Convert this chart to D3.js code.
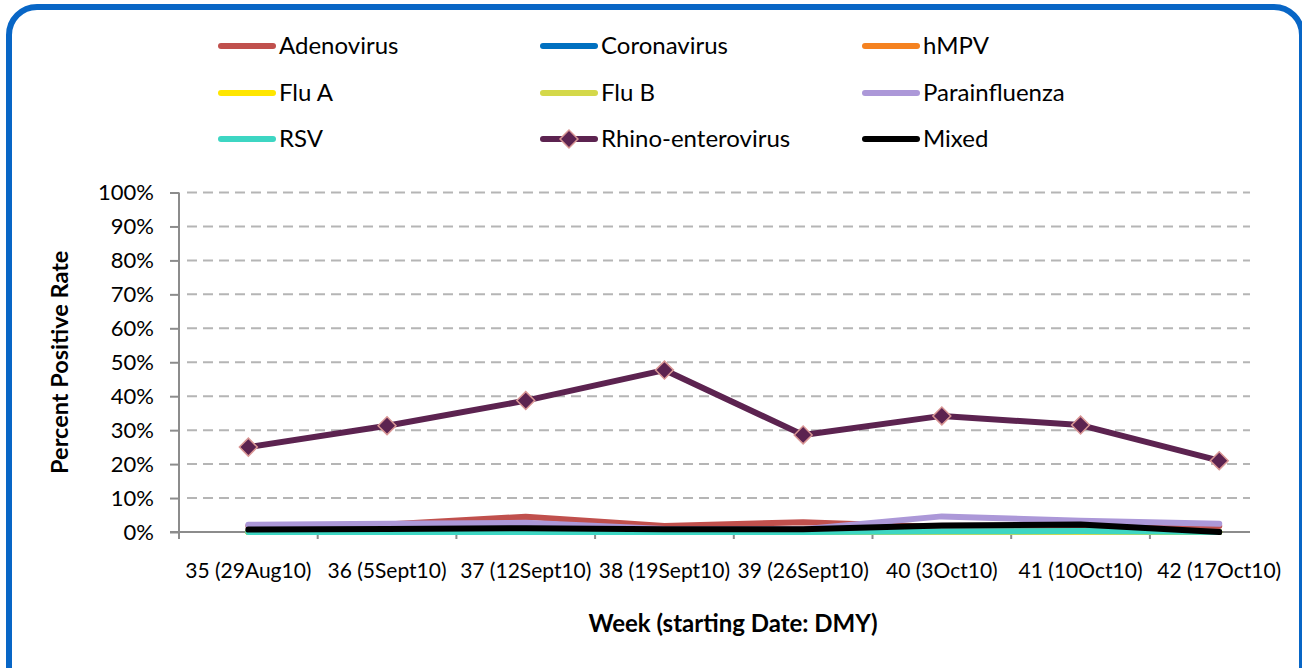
<!DOCTYPE html>
<head>
  <meta charset="utf-8">
  <script src="https://d3js.org/d3.v7.min.js"></script>
  <style>
  body { margin: 0; background: #fff; }
  #chart text {
    font-family: Lato, "Liberation Sans", sans-serif;
    fill: #000;
  }
  </style>
</head>

<body>
  <svg id="chart"></svg>
  <script>

    var weeks = ["35 (29Aug10)", "36 (5Sept10)", "37 (12Sept10)", "38 (19Sept10)",
                 "39 (26Sept10)", "40 (3Oct10)", "41 (10Oct10)", "42 (17Oct10)"];

    var seriesNames = ["Adenovirus", "Coronavirus", "hMPV", "Flu A", "Flu B",
                       "Parainfluenza", "RSV", "Rhino-enterovirus", "Mixed"];

    // percent positive per week
    var adenovirus     = [1.8, 2.2, 4.5, 1.8, 2.9, 1.5, 1.8, 1.8];
    var coronavirus    = [0, 0, 0, 0, 0, 0, 0, 0];
    var hmpv           = [0, 0, 0, 0, 0, 0, 0, 0];
    var fluA           = [0, 0, 0, 0, 0, 0, 0, 0];
    var fluB           = [0, 0, 0, 0, 0, 0, 0, 0];
    var parainfluenza  = [2.1, 2.4, 2.7, 0.9, 0.8, 4.6, 3.3, 2.4];
    var rsv            = [0, 0, 0, 0, 0, 0.2, 0.3, 0];
    var rhino          = [25.0, 31.3, 38.7, 47.7, 28.6, 34.2, 31.5, 21.0];
    var mixed          = [0.7, 0.9, 1.1, 0.8, 0.8, 1.9, 2.2, 0];

    var yTicks = [0, 10, 20, 30, 40, 50, 60, 70, 80, 90, 100];

    var colors = ["#c0504d", "#0070c0", "#f58220", "#ffe600", "#d4d84a",
                  "#ac98d8", "#3dd6c3", "#5c2350", "#000000"];

    var allValues = [adenovirus, coronavirus, hmpv, fluA, fluB,
                     parainfluenza, rsv, rhino, mixed];

    var series = seriesNames.map(function(name, i) {
      return { name: name, color: colors[i], values: allValues[i] };
    });

    var width = 1302,
        height = 668,
        plotLeft = 179,
        plotTop = 192.5,
        plotBottom = 532,
        step = 138.7,
        gridEnd = 1250;

    var svg = d3.select('#chart')
        .attr('width', width)
        .attr('height', height);

    // rounded frame (runs past the bottom edge)
    svg.append('rect')
        .attr('x', 9).attr('y', 7)
        .attr('width', 1293).attr('height', 700)
        .attr('rx', 28)
        .attr('fill', 'none')
        .attr('stroke', '#0866c6')
        .attr('stroke-width', 6);

    var x = d3.scaleBand()
        .domain(weeks)
        .range([plotLeft, plotLeft + step * weeks.length]);

    var y = d3.scaleLinear()
        .domain([0, 100])
        .range([plotBottom, plotTop]);

    // dashed gridlines
    svg.append('g').selectAll('line')
        .data(yTicks.slice(1))
      .enter().append('line')
        .attr('x1', plotLeft + 8).attr('x2', gridEnd)
        .attr('y1', function(d) { return y(d); })
        .attr('y2', function(d) { return y(d); })
        .attr('stroke', '#b5b5b5')
        .attr('stroke-width', 2)
        .attr('stroke-dasharray', '10,6');

    // y axis
    var yAxis = svg.append('g')
        .attr('transform', 'translate(' + plotLeft + ',0)')
        .call(d3.axisLeft(y).tickValues(yTicks).tickSize(9).tickPadding(16)
              .tickFormat(function(d) { return d + '%'; }));
    yAxis.select('.domain').remove();
    yAxis.selectAll('line').attr('stroke', '#8c8c8c').attr('stroke-width', 2);
    yAxis.selectAll('text').style('font-size', '22px');

    svg.append('line')
        .attr('x1', plotLeft).attr('x2', plotLeft)
        .attr('y1', plotTop).attr('y2', plotBottom + 7)
        .attr('stroke', '#8c8c8c').attr('stroke-width', 2);

    // x axis
    svg.append('line')
        .attr('x1', plotLeft - 9).attr('x2', gridEnd)
        .attr('y1', plotBottom).attr('y2', plotBottom)
        .attr('stroke', '#8c8c8c').attr('stroke-width', 2);

    svg.append('g').selectAll('line')
        .data(weeks.slice(0, -1))
      .enter().append('line')
        .attr('x1', function(d) { return x(d) + step; })
        .attr('x2', function(d) { return x(d) + step; })
        .attr('y1', plotBottom).attr('y2', plotBottom + 7)
        .attr('stroke', '#8c8c8c').attr('stroke-width', 2);

    var xAxis = svg.append('g')
        .attr('transform', 'translate(0,' + plotBottom + ')')
        .call(d3.axisBottom(x).tickSize(0).tickPadding(31));
    xAxis.select('.domain').remove();
    xAxis.selectAll('text').style('font-size', '21px');

    // axis titles
    svg.append('text')
        .attr('transform', 'translate(68,' + ((plotTop + plotBottom) / 2) + ') rotate(-90)')
        .attr('text-anchor', 'middle')
        .style('font-size', '23.5px')
        .style('font-weight', 'bold')
        .text('Percent Positive Rate');

    svg.append('text')
        .attr('x', 733).attr('y', 632)
        .attr('text-anchor', 'middle')
        .style('font-size', '24px')
        .style('font-weight', 'bold')
        .text('Week (starting Date: DMY)');

    // lines
    var line = d3.line()
        .x(function(d, i) { return x(weeks[i]) + x.bandwidth() / 2; })
        .y(function(d) { return y(d); });

    svg.append('g').selectAll('path')
        .data(series)
      .enter().append('path')
        .attr('d', function(d) { return line(d.values); })
        .attr('fill', 'none')
        .attr('stroke', function(d) { return d.color; })
        .attr('stroke-width', 6)
        .attr('stroke-linecap', 'round')
        .attr('stroke-linejoin', 'round');

    // diamond markers on rhino-enterovirus
    var diamond = d3.symbol().type(d3.symbolSquare).size(160);
    svg.append('g').selectAll('path')
        .data(rhino)
      .enter().append('path')
        .attr('d', diamond)
        .attr('transform', function(d, i) {
          return 'translate(' + (x(weeks[i]) + x.bandwidth() / 2) + ',' + y(d) + ') rotate(45)';
        })
        .attr('fill', '#5c2350')
        .attr('stroke', '#d99694')
        .attr('stroke-width', 1.5);

    // legend
    var legendX = [218, 540, 862],
        legendY = [46, 93, 139];

    var legend = svg.append('g').selectAll('g')
        .data(series)
      .enter().append('g')
        .attr('transform', function(d, i) {
          return 'translate(' + legendX[i % 3] + ',' + legendY[Math.floor(i / 3)] + ')';
        });

    legend.append('line')
        .attr('x1', 3).attr('x2', 55)
        .attr('stroke', function(d) { return d.color; })
        .attr('stroke-width', 6)
        .attr('stroke-linecap', 'round');

    legend.filter(function(d) { return d.name === 'Rhino-enterovirus'; })
      .append('path')
        .attr('d', diamond)
        .attr('transform', 'translate(29,0) rotate(45)')
        .attr('fill', '#5c2350')
        .attr('stroke', '#d99694')
        .attr('stroke-width', 1.5);

    legend.append('text')
        .attr('x', 61)
        .attr('dy', '0.35em')
        .style('font-size', '24px')
        .text(function(d) { return d.name; });

  </script>
</body>
